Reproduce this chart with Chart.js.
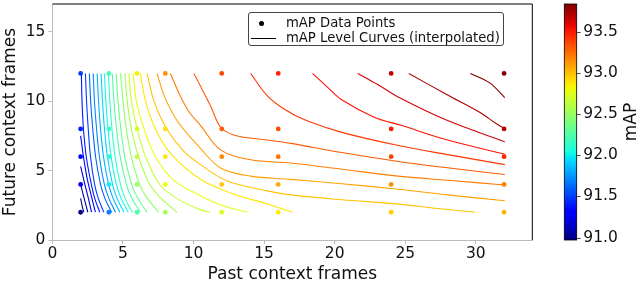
<!DOCTYPE html>
<html>
<head>
<meta charset="utf-8">
<script src="https://cdn.jsdelivr.net/npm/chart.js@4.4.1/dist/chart.umd.min.js"></script>
<style>
  body { margin: 0; background: #fff; }
  #wrap { position: relative; width: 640px; height: 283px; font-family: "DejaVu Sans", sans-serif; }
  #legenda {
    position: absolute; left: 248px; top: 12px; width: 256px; height: 34px;
    box-sizing: border-box; border: 1px solid #444; border-radius: 3px;
    background: rgba(255,255,255,0.85); font-size: 13.2px; color: #111;
  }
  #legenda .txt { position: absolute; left: 37px; white-space: nowrap; line-height: 14px; }
  #legenda .dot { position: absolute; left: 10px; top: 8px; width: 5px; height: 5px; border-radius: 50%; background: #000; }
  #legenda .lin { position: absolute; left: 2px; top: 25px; width: 25px; height: 1px; background: #000; }
</style>
</head>
<body>
<div id="wrap">
  <canvas id="grafico" width="640" height="283"></canvas>
  <div id="legenda">
    <span class="dot"></span><span class="txt" style="top:3px">mAP Data Points</span>
    <span class="lin"></span><span class="txt" style="top:18px">mAP Level Curves (interpolated)</span>
  </div>
</div>
<script>
// Dados
const pastFrames = [2, 4, 6, 8, 12, 16, 24, 32];
const futureFrames = [2, 4, 6, 8, 12];
// mAP por linha de futureFrames (mesma ordem de pastFrames)
const mapValues = [
    [90.97, 91.70, 92.25, 92.55, 92.72, 92.86, 92.96, 93.03],
    [91.25, 92.00, 92.50, 92.80, 92.98, 93.07, 93.15, 93.20],
    [91.35, 92.10, 92.65, 92.87, 93.17, 93.23, 93.38, 93.47],
    [91.42, 92.15, 92.70, 92.90, 93.30, 93.35, 93.52, 93.70],
    [91.50, 92.20, 92.85, 93.15, 93.37, 93.47, 93.68, 93.84]
];
const xTicks = [0, 5, 10, 15, 20, 25, 30];
const yTicks = [0, 5, 10, 15];
const cbTicks = [91.0, 91.5, 92.0, 92.5, 93.0, 93.5];

// Curvas de nivel
const curveLevels = [91.1, 91.2, 91.3, 91.4, 91.5, 91.6, 91.7, 91.8, 91.9, 92.0,
    92.1, 92.2, 92.3, 92.4, 92.5, 92.6, 92.7, 92.8, 92.9, 93.0,
    93.1, 93.2, 93.3, 93.4, 93.5, 93.6, 93.7, 93.8];
const curvePaths = [
    [[2, 3.0], [2.1, 2.5], [2.22, 2]],
    [[2, 4.0], [2.25, 3.0], [2.51, 2]],
    [[2, 5.3], [2.3, 4.0], [2.55, 3.0], [2.77, 2]],
    [[2, 7.5], [2.2, 6], [2.45, 4.5], [2.75, 3.2], [3.05, 2]],
    [[2.05, 12], [2.1, 10], [2.2, 8], [2.4, 6], [2.7, 4.3], [3.0, 3.0], [3.36, 2]],
    [[2.34, 12], [2.42, 10], [2.54, 8], [2.70, 6], [2.99, 4], [3.25, 3], [3.64, 2]],
    [[2.62, 12], [2.71, 10], [2.86, 8], [3.06, 6], [3.41, 4], [3.72, 3], [4.19, 2]],
    [[2.89, 12], [2.98, 10], [3.13, 8], [3.33, 6], [3.68, 4], [4.00, 3], [4.47, 2]],
    [[3.17, 12], [3.27, 10], [3.41, 8], [3.62, 6], [3.98, 4], [4.30, 3], [4.78, 2]],
    [[3.45, 12], [3.55, 10], [3.69, 8], [3.90, 6], [4.26, 4], [4.58, 3], [5.07, 2]],
    [[3.69, 12], [3.79, 10], [3.94, 8], [4.16, 6], [4.53, 4], [4.87, 3], [5.37, 2]],
    [[3.97, 12], [4.07, 10], [4.22, 8], [4.44, 6], [4.82, 4], [5.15, 3], [5.66, 2]],
    [[4.24, 12], [4.36, 10], [4.54, 8], [4.80, 6], [5.24, 4], [5.63, 3], [6.23, 2]],
    [[4.52, 12], [4.65, 10], [4.85, 8], [5.13, 6], [5.61, 4], [6.05, 3], [6.70, 2]],
    [[4.83, 12], [5.00, 10], [5.24, 8], [5.59, 6], [6.18, 4], [6.72, 3], [7.53, 2]],
    [[5.14, 12], [5.3, 10], [5.6, 8], [6.1, 6], [6.9, 4], [7.7, 3], [8.83, 2]],
    [[5.42, 12], [5.6, 10], [6.0, 8], [6.6, 6], [7.6, 4], [8.8, 3], [10.49, 2.17], [11.2, 2]],
    [[5.71, 12], [5.95, 10], [6.5, 8], [7.3, 6], [8.6, 4.3], [10.49, 3.19], [12, 2.5], [13.81, 2]],
    [[6.23, 12], [6.6, 10], [7.3, 8], [8.4, 6.2], [10.49, 4.37], [12.86, 3.3], [15.23, 2.6], [17.0, 2]],
    [[6.7, 12], [7.2, 10], [8.1, 8], [9.3, 6.4], [10.49, 5.43], [12.39, 4.25], [15.23, 3.54], [16.9, 3.25], [20.5, 2.9], [24.35, 2.6], [27.5, 2.25], [29.96, 2]],
    [[7.41, 12], [8.0, 10.2], [8.9, 8.5], [10.49, 6.6], [11.91, 5.19], [14.05, 4.6], [16.9, 4.37], [20.5, 4.05], [24.5, 3.66], [28, 3.25], [32.05, 2.83]],
    [[8.36, 12], [9.0, 10.5], [9.7, 9.2], [10.49, 8.26], [11.91, 6.49], [14.05, 5.78], [16.9, 5.55], [20.5, 5.1], [24.5, 4.6], [28, 4.3], [32.05, 3.96]],
    [[10.02, 12], [10.49, 11.09], [11.2, 9.67], [11.91, 8.14], [12.9, 7.55], [15.23, 7.2], [16.9, 6.96], [20.5, 6.3], [24.5, 5.66], [28, 5.2], [32.05, 4.72]],
    [[14.04, 12], [15.23, 10.38], [16.41, 9.44], [18, 8.6], [20.44, 7.77], [24.35, 6.84], [28, 6.15], [32.05, 5.43]],
    [[18.43, 12], [19.5, 11], [20.44, 10.14], [22.8, 8.85], [24.7, 8.26], [28, 7.2], [32.05, 6.18]],
    [[21.63, 12], [23.05, 11.2], [24.5, 10.3], [28, 8.6], [32.05, 7.08]],
    [[25.25, 12], [27.9, 10.5], [30.27, 9.2], [31.46, 8.37], [32.05, 8.02]],
    [[29.61, 12], [31.0, 11.3], [32.05, 10.26]]
];

// Mapa de cores "jet"
function jet(t) {
    t = Math.max(0, Math.min(1, t));
    const interp = (pts) => {
        for (let i = 1; i < pts.length; i++) {
            if (t <= pts[i][0]) {
                const [x0, y0] = pts[i - 1], [x1, y1] = pts[i];
                return y0 + (y1 - y0) * (t - x0) / (x1 - x0);
            }
        }
        return pts[pts.length - 1][1];
    };
    const r = interp([[0, 0], [0.35, 0], [0.66, 1], [0.89, 1], [1, 0.5]]);
    const g = interp([[0, 0], [0.125, 0], [0.375, 1], [0.64, 1], [0.91, 0], [1, 0]]);
    const b = interp([[0, 0.5], [0.11, 1], [0.34, 1], [0.65, 0], [1, 0]]);
    return `rgb(${Math.round(r * 255)},${Math.round(g * 255)},${Math.round(b * 255)})`;
}

const todos = mapValues.flat();
const vMin = Math.min(...todos);
const vMax = Math.max(...todos);
const lvMin = curveLevels[0];
const lvMax = curveLevels[curveLevels.length - 1];

const pontos = [];
const coresPontos = [];
futureFrames.forEach((fy, i) => {
    pastFrames.forEach((px, j) => {
        pontos.push({ x: px, y: fy });
        coresPontos.push(jet((mapValues[i][j] - vMin) / (vMax - vMin)));
    });
});

const datasets = [{
    label: 'mAP Data Points',
    data: pontos,
    backgroundColor: coresPontos,
    pointRadius: 2.4,
    pointBorderWidth: 0,
    showLine: false
}];
curvePaths.forEach((path, k) => {
    datasets.push({
        label: 'nivel ' + curveLevels[k],
        data: path.map(([x, y]) => ({ x, y })),
        showLine: true,
        borderColor: jet((curveLevels[k] - lvMin) / (lvMax - lvMin)),
        borderWidth: 1.1,
        pointRadius: 0,
        tension: 0.35,
        fill: false
    });
});

const fonte = { family: '"DejaVu Sans", sans-serif', size: 15.5 };

// Zerar o padding extra que o Chart.js reserva para os rotulos
function semPadding(s) {
    s.paddingTop = 0;
    s.paddingBottom = 0;
    s.paddingLeft = 0;
    s.paddingRight = 0;
}

// Moldura superior/direita e barra de cores
const extras = {
    id: 'extras',
    afterDraw(chart) {
        const { ctx, chartArea: a } = chart;
        ctx.save();
        ctx.strokeStyle = '#000';
        ctx.lineWidth = 1;
        ctx.beginPath();
        ctx.moveTo(a.left, a.top);
        ctx.lineTo(a.right, a.top);
        ctx.lineTo(a.right, a.bottom);
        ctx.stroke();

        const cb = chart.scales.cb;
        const x0 = 564.3, w = 12.4;
        const yTop = cb.getPixelForValue(vMax), yBot = cb.getPixelForValue(vMin);
        const grad = ctx.createLinearGradient(0, yBot, 0, yTop);
        for (let i = 0; i <= 40; i++) grad.addColorStop(i / 40, jet(i / 40));
        ctx.fillStyle = grad;
        ctx.fillRect(x0, yTop, w, yBot - yTop);
        ctx.strokeStyle = '#000';
        ctx.lineWidth = 0.8;
        ctx.strokeRect(x0, yTop, w, yBot - yTop);
        ctx.strokeStyle = '#222';
        cbTicks.forEach(v => {
            const y = Math.round(cb.getPixelForValue(v)) + 0.5;
            ctx.beginPath();
            ctx.moveTo(x0 + w, y);
            ctx.lineTo(x0 + w + 4, y);
            ctx.stroke();
        });
        ctx.fillStyle = '#111';
        ctx.font = '17px "DejaVu Sans", sans-serif';
        ctx.textAlign = 'center';
        ctx.textBaseline = 'middle';
        ctx.translate(632, (a.top + a.bottom) / 2);
        ctx.rotate(-Math.PI / 2);
        ctx.fillText('mAP', 0, 0);
        ctx.restore();
    }
};

new Chart(document.getElementById('grafico'), {
    type: 'scatter',
    data: { datasets },
    options: {
        responsive: false,
        animation: false,
        events: [],
        layout: { padding: { top: 0.5, left: 0, right: 0, bottom: 0 } },
        plugins: { legend: { display: false }, tooltip: { enabled: false } },
        scales: {
            x: {
                type: 'linear', position: 'bottom', min: 0, max: 34,
                afterBuildTicks: s => { s.ticks = xTicks.map(v => ({ value: v })); },
                afterFit: s => { s.height = 43; semPadding(s); },
                grid: { display: true, drawOnChartArea: false, drawTicks: true, tickLength: 4, color: '#bbb' },
                border: { display: true, color: '#bbb' },
                ticks: { font: fonte, color: '#111', padding: 1, maxRotation: 0 },
                title: { display: true, text: 'Past context frames', color: '#111',
                    font: { family: fonte.family, size: 17, lineHeight: 1 }, padding: { top: 0, bottom: 0 } }
            },
            y: {
                type: 'linear', position: 'left', min: 0, max: 17,
                afterBuildTicks: s => { s.ticks = yTicks.map(v => ({ value: v })); },
                afterFit: s => { s.width = 52.4; semPadding(s); },
                grid: { display: true, drawOnChartArea: false, drawTicks: true, tickLength: 4, color: '#bbb' },
                border: { display: true, color: '#bbb' },
                ticks: { font: fonte, color: '#111', padding: 3 },
                title: { display: true, text: 'Future context frames', color: '#111',
                    font: { family: fonte.family, size: 17, lineHeight: 1 }, padding: { top: 2, bottom: 0 } }
            },
            cb: {
                type: 'linear', position: 'right', min: vMin, max: vMax,
                afterBuildTicks: s => { s.ticks = cbTicks.map(v => ({ value: v })); },
                afterFit: s => { s.width = 107.7; semPadding(s); },
                grid: { display: false, drawTicks: false },
                border: { display: false },
                ticks: { font: fonte, color: '#111', padding: 51, callback: v => v.toFixed(1) }
            }
        }
    },
    plugins: [extras]
});
</script>
</body>
</html>
